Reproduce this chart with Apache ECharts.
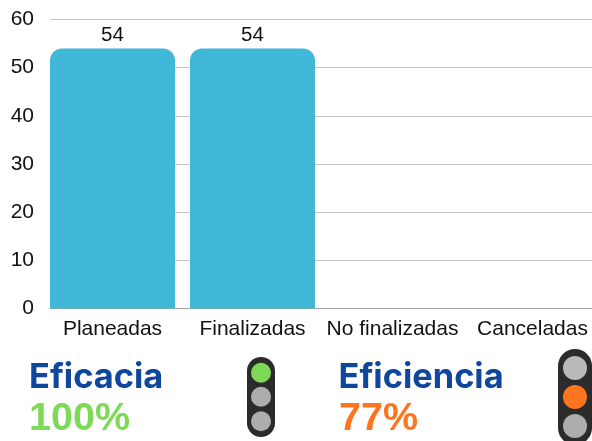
<!DOCTYPE html>
<html>
<head>
<meta charset="utf-8">
<style>
  html, body { margin: 0; padding: 0; background: #fff; }
  #chart { width: 592px; height: 441px; }
</style>
<script src="https://cdn.jsdelivr.net/npm/echarts@6/dist/echarts.min.js"></script>
</head>
<body>
<div id="chart"></div>
<script>
var categories = ['Planeadas', 'Finalizadas', 'No finalizadas', 'Canceladas'];
var values = [54, 54, null, null];
var yTicks = { min: 0, max: 60, interval: 10 };
var kpiNames = ['Eficacia', 'Eficiencia'];
var kpiValues = ['100%', '77%'];

var blue = '#0e479c', green = '#7ed957', orange = '#ff751f', grey = '#adadad', dark = '#2b2b2b';

// semaforo: caja + tres luces
function light(x, y, w, h, cx, cys, r, colors) {
  var out = [{
    type: 'rect',
    shape: { x: x, y: y, width: w, height: h, r: w / 2 },
    style: { fill: dark }
  }];
  cys.forEach(function (cy, i) {
    out.push({ type: 'circle', shape: { cx: cx, cy: cy, r: r }, style: { fill: colors[i] } });
  });
  return out;
}

// y = centro vertical del texto
function label(x, y, text, color, font) {
  return {
    type: 'text', x: x, y: y,
    style: { text: text, fill: color, font: font, verticalAlign: 'middle' }
  };
}

var titleFont = 'bold 34.4px Inter, "Open Sans", sans-serif';
var valueFont = 'bold 39.5px "Liberation Sans", Arial, sans-serif';

var chart = echarts.init(document.getElementById('chart'));
chart.setOption({
  animation: false,
  textStyle: { fontFamily: '"Liberation Sans", Arial, sans-serif' },
  grid: [
    // lineas del eje Y
    { left: 50, right: 0, top: 19.5, height: 289, outerBoundsMode: 'none' },
    // las barras van un poco corridas a la izquierda
    { left: 42.5, width: 560, top: 19.5, height: 289, outerBoundsMode: 'none' }
  ],
  xAxis: [
    {
      gridIndex: 0, type: 'value', min: 0, max: 1,
      axisLine: { show: true, onZero: false, lineStyle: { color: '#a6a6a6', width: 1 } },
      axisTick: { show: false }, axisLabel: { show: false }, splitLine: { show: false }
    },
    {
      gridIndex: 1, type: 'category', data: categories,
      axisLine: { show: false }, axisTick: { show: false },
      axisLabel: { color: '#111', fontSize: 21, margin: 10, interval: 0 }
    }
  ],
  yAxis: [
    {
      gridIndex: 0, type: 'value',
      min: yTicks.min, max: yTicks.max, interval: yTicks.interval,
      axisLine: { show: false }, axisTick: { show: false },
      axisLabel: { color: '#111', fontSize: 21, margin: 16, padding: [3, 0, 0, 0] },
      splitLine: { lineStyle: { color: '#c9c9c9', width: 1 } }
    },
    {
      gridIndex: 1, type: 'value',
      min: yTicks.min, max: yTicks.max, interval: yTicks.interval,
      show: false
    }
  ],
  series: [{
    type: 'bar',
    xAxisIndex: 1,
    yAxisIndex: 1,
    data: values,
    barWidth: 125,
    itemStyle: { color: '#41b8d8', borderRadius: [12, 12, 0, 0] },
    label: { show: true, position: 'top', color: '#111', fontSize: 20.5, distance: 3 }
  }],
  graphic: [
    label(29, 378, kpiNames[0], blue, titleFont),
    label(29, 419, kpiValues[0], green, valueFont),
    label(338.5, 378, kpiNames[1], blue, titleFont),
    label(339, 419, kpiValues[1], orange, valueFont)
  ]
    .concat(light(247, 357, 28, 80, 261, [372.7, 396.7, 421.3], 10, [green, grey, grey]))
    .concat(light(558, 349, 34, 96, 575, [368, 397, 426], 12, ['#b9bbba', orange, grey]))
});
</script>
</body>
</html>
